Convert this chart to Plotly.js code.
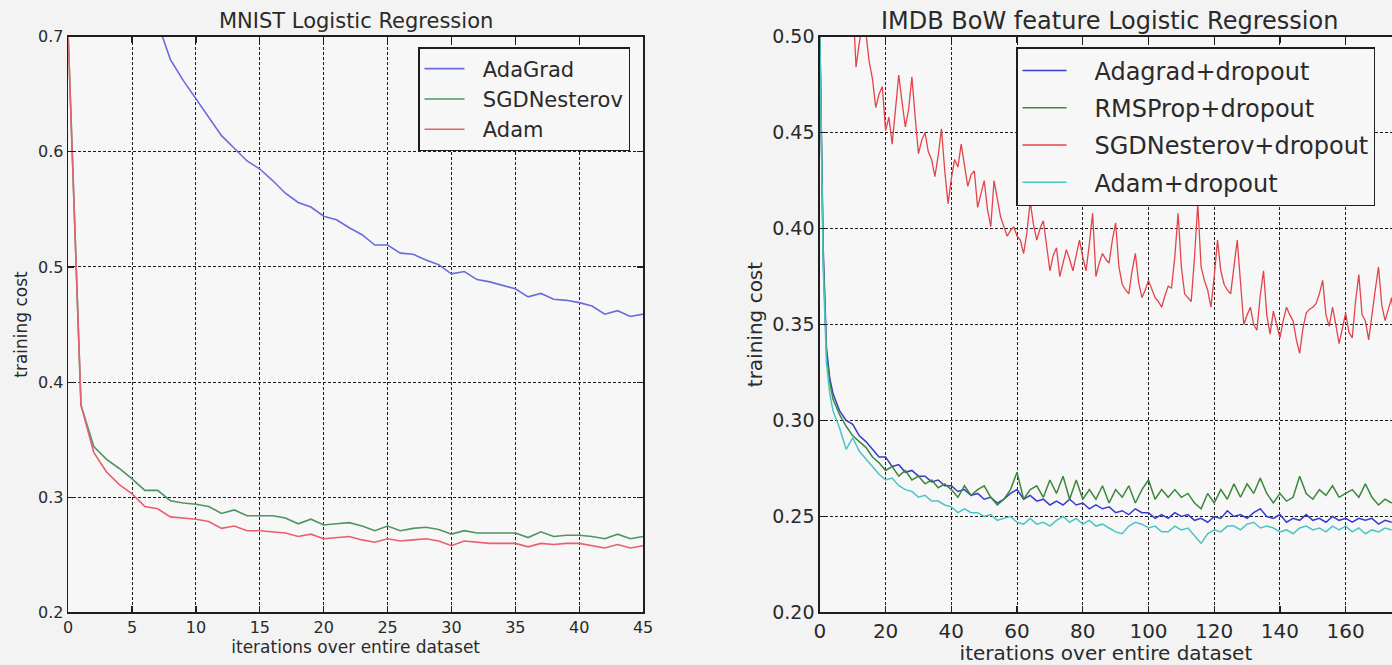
<!DOCTYPE html>
<html>
<head>
<meta charset="utf-8">
<script src="https://cdn.plot.ly/plotly-3.0.1.min.js"></script>
<style>
html,body{margin:0;padding:0;background:#f3f3f3;overflow:hidden;}
#chart{width:1392px;height:665px;}
</style>
</head>
<body>
<div id="chart"></div>
<script>
// ---------- MNIST Logistic Regression (left) ----------
const mnistSeriesNames = ['AdaGrad', 'SGDNesterov', 'Adam'];
const mnistIter = [0,1,2,3,4,5,6,7,8,9,10,11,12,13,14,15,16,17,18,19,20,21,22,23,24,25,26,27,28,29,30,31,32,33,34,35,36,37,38,39,40,41,42,43,44,45];
const mnistAdaGradIter = [7,8,9,10,11,12,13,14,15,16,17,18,19,20,21,22,23,24,25,26,27,28,29,30,31,32,33,34,35,36,37,38,39,40,41,42,43,44,45];
const mnistAdaGrad = [0.712,0.680,0.662,0.646,0.630,0.614,0.603,0.592,0.585,0.575,0.564,0.556,0.552,0.544,0.541,0.534,0.528,0.519,0.519,0.512,0.511,0.506,0.502,0.494,0.496,0.489,0.487,0.484,0.481,0.474,0.477,0.472,0.471,0.469,0.466,0.459,0.462,0.457,0.459];
const mnistSGDNesterov = [0.700,0.380,0.344,0.333,0.325,0.316,0.306,0.306,0.297,0.295,0.294,0.292,0.286,0.289,0.284,0.284,0.284,0.282,0.277,0.281,0.276,0.277,0.278,0.275,0.271,0.275,0.271,0.273,0.274,0.272,0.268,0.271,0.269,0.269,0.269,0.269,0.265,0.270,0.266,0.267,0.267,0.266,0.264,0.268,0.264,0.266];
const mnistAdam = [0.700,0.380,0.339,0.322,0.311,0.303,0.292,0.290,0.283,0.282,0.281,0.279,0.273,0.275,0.271,0.271,0.270,0.269,0.266,0.268,0.264,0.265,0.266,0.263,0.261,0.264,0.262,0.263,0.264,0.262,0.258,0.262,0.261,0.260,0.260,0.260,0.257,0.260,0.259,0.260,0.260,0.258,0.256,0.259,0.256,0.258];

// ---------- IMDB BoW feature Logistic Regression (right) ----------
const imdbSeriesNames = ['Adagrad+dropout', 'RMSProp+dropout', 'SGDNesterov+dropout', 'Adam+dropout'];
const imdbIter = [0,1,2,3,4,6,8,10,12,14,16,18,20,22,24,26,28,30,32,34,36,38,40,42,44,46,48,50,52,54,56,58,60,62,64,66,68,70,72,74,76,78,80,82,84,86,88,90,92,94,96,98,100,102,104,106,108,110,112,114,116,118,120,122,124,126,128,130,132,134,136,138,140,142,144,146,148,150,152,154,156,158,160,162,164,166,168,170,172,174];
const imdbAdagrad = [0.500,0.390,0.338,0.322,0.314,0.305,0.300,0.298,0.292,0.289,0.285,0.281,0.281,0.276,0.277,0.273,0.274,0.271,0.271,0.268,0.269,0.266,0.266,0.263,0.264,0.261,0.262,0.259,0.260,0.257,0.259,0.262,0.264,0.259,0.261,0.258,0.259,0.256,0.258,0.256,0.259,0.256,0.257,0.254,0.256,0.254,0.255,0.252,0.253,0.251,0.254,0.252,0.252,0.249,0.251,0.249,0.252,0.250,0.251,0.248,0.249,0.247,0.250,0.249,0.253,0.250,0.251,0.249,0.252,0.254,0.250,0.249,0.251,0.247,0.249,0.248,0.251,0.248,0.249,0.247,0.250,0.248,0.249,0.247,0.249,0.248,0.249,0.246,0.248,0.247];
const imdbRMSProp = [0.500,0.385,0.335,0.320,0.311,0.303,0.297,0.292,0.289,0.286,0.281,0.278,0.274,0.276,0.271,0.274,0.269,0.271,0.267,0.269,0.265,0.267,0.264,0.260,0.266,0.261,0.264,0.266,0.260,0.256,0.259,0.264,0.273,0.259,0.264,0.266,0.260,0.269,0.262,0.271,0.259,0.269,0.259,0.264,0.259,0.266,0.257,0.264,0.260,0.266,0.257,0.264,0.269,0.259,0.264,0.260,0.264,0.260,0.262,0.257,0.254,0.262,0.257,0.264,0.259,0.267,0.260,0.267,0.262,0.270,0.262,0.257,0.262,0.258,0.260,0.271,0.262,0.259,0.264,0.261,0.266,0.260,0.262,0.264,0.260,0.267,0.260,0.256,0.259,0.257];
const imdbAdam = [0.500,0.380,0.330,0.314,0.305,0.296,0.285,0.291,0.284,0.280,0.276,0.272,0.269,0.270,0.266,0.264,0.263,0.260,0.261,0.258,0.258,0.256,0.255,0.252,0.254,0.252,0.252,0.250,0.251,0.248,0.249,0.250,0.247,0.246,0.249,0.246,0.247,0.245,0.248,0.250,0.247,0.249,0.246,0.248,0.245,0.246,0.244,0.242,0.241,0.245,0.247,0.246,0.244,0.245,0.242,0.242,0.245,0.243,0.244,0.240,0.236,0.241,0.243,0.242,0.245,0.245,0.243,0.246,0.247,0.244,0.245,0.244,0.242,0.243,0.241,0.244,0.245,0.243,0.244,0.242,0.245,0.243,0.245,0.242,0.244,0.241,0.243,0.242,0.244,0.243];
const imdbSGDIter = [10,11,12,13,14,15,16,17,18,19,20,21,22,23,24,25,26,27,28,29,30,31,32,33,34,35,36,37,38,39,40,41,42,43,44,45,46,47,48,49,50,51,52,53,54,55,56,57,58,59,60,61,62,63,64,65,66,67,68,69,70,71,72,73,74,75,76,77,78,79,80,81,82,83,84,85,86,87,88,89,90,91,92,93,94,95,96,97,98,99,100,101,102,103,104,105,106,107,108,109,110,111,112,113,114,115,116,117,118,119,120,121,122,123,124,125,126,127,128,129,130,131,132,133,134,135,136,137,138,139,140,141,142,143,144,145,146,147,148,149,150,151,152,153,154,155,156,157,158,159,160,161,162,163,164,165,166,167,168,169,170,171,172,173,174,175];
const imdbSGDNesterov = [0.520,0.484,0.497,0.506,0.502,0.487,0.478,0.463,0.470,0.474,0.451,0.458,0.444,0.462,0.480,0.466,0.453,0.462,0.479,0.458,0.439,0.446,0.450,0.440,0.436,0.427,0.438,0.452,0.430,0.413,0.426,0.436,0.432,0.444,0.433,0.422,0.428,0.430,0.411,0.418,0.425,0.410,0.401,0.425,0.415,0.406,0.401,0.396,0.399,0.401,0.396,0.394,0.387,0.398,0.414,0.402,0.394,0.400,0.404,0.390,0.378,0.386,0.390,0.375,0.382,0.389,0.384,0.378,0.386,0.394,0.385,0.378,0.392,0.408,0.375,0.382,0.387,0.384,0.382,0.394,0.403,0.380,0.371,0.368,0.366,0.378,0.387,0.372,0.364,0.368,0.373,0.368,0.364,0.362,0.359,0.365,0.370,0.369,0.385,0.408,0.380,0.366,0.364,0.362,0.385,0.413,0.380,0.373,0.368,0.359,0.375,0.394,0.378,0.371,0.368,0.366,0.380,0.394,0.372,0.350,0.355,0.359,0.350,0.347,0.365,0.378,0.355,0.345,0.357,0.350,0.343,0.352,0.359,0.355,0.352,0.342,0.335,0.348,0.356,0.358,0.359,0.361,0.366,0.373,0.355,0.349,0.359,0.350,0.340,0.348,0.356,0.346,0.343,0.362,0.376,0.355,0.352,0.342,0.356,0.368,0.380,0.360,0.352,0.358,0.364,0.348];

const mnistTicksX = [0,5,10,15,20,25,30,35,40,45];
const mnistTicksY = [0.2,0.3,0.4,0.5,0.6,0.7];
const imdbTicksX = [0,20,40,60,80,100,120,140,160];
const imdbTicksY = [0.20,0.25,0.30,0.35,0.40,0.45,0.50];

const FONT = 'DejaVu Sans, Verdana, sans-serif';
const TXT = '#2a2a2a';
// non-breaking spaces only pad the gap between the legend line and its label
const padL = '\u00a0\u00a0';
const padR = '\u00a0\u00a0\u00a0';

const traces = [
  {x: mnistAdaGradIter, y: mnistAdaGrad, name: padL + mnistSeriesNames[0], mode: 'lines', xaxis: 'x', yaxis: 'y',
   line: {color: '#6b6bdc', width: 1.6}, legend: 'legend', legendgroup: 'a1'},
  {x: mnistIter, y: mnistSGDNesterov, name: padL + mnistSeriesNames[1], mode: 'lines', xaxis: 'x', yaxis: 'y',
   line: {color: '#4f9461', width: 1.6}, legend: 'legend', legendgroup: 'a2'},
  {x: mnistIter, y: mnistAdam, name: padL + mnistSeriesNames[2], mode: 'lines', xaxis: 'x', yaxis: 'y',
   line: {color: '#e8606e', width: 1.6}, legend: 'legend', legendgroup: 'a3'},

  {x: imdbIter, y: imdbAdagrad, name: padR + imdbSeriesNames[0], mode: 'lines', xaxis: 'x2', yaxis: 'y2',
   line: {color: '#3a3ad0', width: 1.5}, legend: 'legend2', legendgroup: 'b1'},
  {x: imdbIter, y: imdbRMSProp, name: padR + imdbSeriesNames[1], mode: 'lines', xaxis: 'x2', yaxis: 'y2',
   line: {color: '#3b883c', width: 1.5}, legend: 'legend2', legendgroup: 'b2'},
  {x: imdbSGDIter, y: imdbSGDNesterov, name: padR + imdbSeriesNames[2], mode: 'lines', xaxis: 'x2', yaxis: 'y2',
   line: {color: '#e2444a', width: 1.3}, legend: 'legend2', legendgroup: 'b3'},
  {x: imdbIter, y: imdbAdam, name: padR + imdbSeriesNames[3], mode: 'lines', xaxis: 'x2', yaxis: 'y2',
   line: {color: '#4cc4c4', width: 1.5}, legend: 'legend2', legendgroup: 'b4'}
];

function axisBase(extra) {
  return Object.assign({
    showline: true, linecolor: '#1e1e1e', linewidth: 1.6,
    ticks: 'inside', ticklen: 6, tickwidth: 1.2, tickcolor: '#1e1e1e',
    showgrid: true, gridcolor: '#1e1e1e', gridwidth: 1, griddash: '3px,2px',
    zeroline: false, fixedrange: true
  }, extra);
}

const layout = {
  width: 1392, height: 665,
  margin: {l: 0, r: 0, t: 0, b: 0},
  paper_bgcolor: '#f3f3f3',
  plot_bgcolor: '#f7f7f7',
  font: {family: FONT, color: TXT},
  xaxis: axisBase({
    domain: [0.049, 0.462], range: [0, 45], anchor: 'y', mirror: 'ticks',
    tickvals: mnistTicksX, ticktext: mnistTicksX.map(String),
    tickfont: {size: 16, color: TXT},
    title: {text: 'iterations over entire dataset', font: {size: 17, color: TXT}, standoff: 2}
  }),
  yaxis: axisBase({
    domain: [0.079, 0.945], range: [0.2, 0.7], anchor: 'x', mirror: 'ticks',
    tickvals: mnistTicksY, ticktext: mnistTicksY.map(v => v.toFixed(1)),
    tickfont: {size: 16, color: TXT},
    title: {text: 'training cost', font: {size: 17, color: TXT}, standoff: 6}
  }),
  xaxis2: axisBase({
    domain: [0.589, 1.0], range: [0, 174.1], anchor: 'y2', mirror: 'ticks',
    tickvals: imdbTicksX, ticktext: imdbTicksX.map(String),
    tickfont: {size: 20, color: TXT},
    title: {text: 'iterations over entire dataset', font: {size: 20, color: TXT}, standoff: 4}
  }),
  yaxis2: axisBase({
    domain: [0.079, 0.945], range: [0.2, 0.5], anchor: 'x2', mirror: false,
    tickvals: imdbTicksY, ticktext: imdbTicksY.map(v => v.toFixed(2)),
    tickfont: {size: 19, color: TXT},
    title: {text: 'training cost', font: {size: 20, color: TXT}, standoff: 4}
  }),
  legend: {
    x: 0.3003, y: 0.9293, xanchor: 'left', yanchor: 'top',
    bgcolor: '#f7f7f7', bordercolor: '#1e1e1e', borderwidth: 1.5,
    font: {size: 21, color: TXT}, tracegroupgap: 0, itemwidth: 40
  },
  legend2: {
    x: 0.7299, y: 0.9293, xanchor: 'left', yanchor: 'top',
    bgcolor: '#f7f7f7', bordercolor: '#1e1e1e', borderwidth: 1.5,
    font: {size: 24, color: TXT}, tracegroupgap: 3, itemwidth: 44
  },
  annotations: [
    {text: 'MNIST Logistic Regression', xref: 'paper', yref: 'paper', x: 0.2554, y: 0.968,
     xanchor: 'center', yanchor: 'middle', showarrow: false, font: {size: 21, color: TXT}},
    {text: 'IMDB BoW feature Logistic Regression', xref: 'paper', yref: 'paper', x: 0.7974, y: 0.968,
     xanchor: 'center', yanchor: 'middle', showarrow: false, font: {size: 24, color: TXT}}
  ]
};

Plotly.newPlot('chart', traces, layout, {displayModeBar: false, staticPlot: true});
</script>
</body>
</html>
